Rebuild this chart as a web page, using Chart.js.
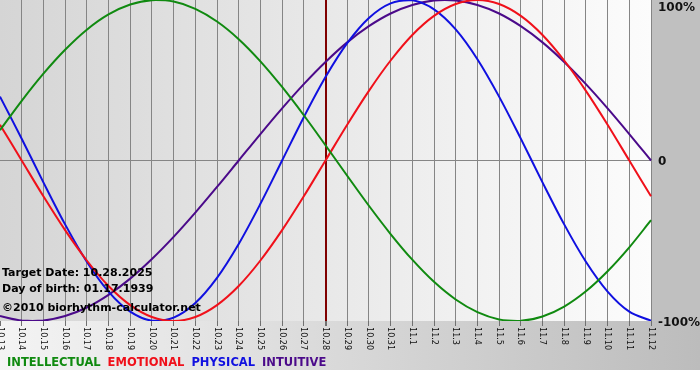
<!DOCTYPE html>
<html>
<head>
<meta charset="utf-8">
<script src="https://cdn.jsdelivr.net/npm/chart.js@4/dist/chart.umd.min.js"></script>
<style>
  html, body { margin: 0; padding: 0; background: #ffffff; }
  canvas { display: block; }
</style>
</head>
<body>
<canvas id="c" width="700" height="380"></canvas>
<script>
// ---- data ----
const categories = ['10.13','10.14','10.15','10.16','10.17','10.18','10.19','10.20','10.21','10.22',
  '10.23','10.24','10.25','10.26','10.27','10.28','10.29','10.30','10.31','11.1','11.2','11.3',
  '11.4','11.5','11.6','11.7','11.8','11.9','11.10','11.11','11.12'];

const intellectual = [0.189,0.372,0.541,0.690,0.815,0.910,0.972,0.999,0.990,0.945,0.866,0.756,0.618,0.458,0.282,0.095,
  -0.095,-0.282,-0.458,-0.618,-0.756,-0.866,-0.945,-0.990,-0.999,-0.972,-0.910,-0.815,-0.690,-0.541,-0.372];

const emotional = [0.223,0.000,-0.223,-0.434,-0.623,-0.782,-0.901,-0.975,-1.000,-0.975,-0.901,-0.782,-0.623,-0.434,-0.223,0.000,
  0.223,0.434,0.623,0.782,0.901,0.975,1.000,0.975,0.901,0.782,0.623,0.434,0.223,0.000,-0.223];

const physical = [0.398,0.136,-0.136,-0.398,-0.631,-0.817,-0.942,-0.998,-0.979,-0.888,-0.731,-0.520,-0.270,0.000,0.270,0.520,
  0.731,0.888,0.979,0.998,0.942,0.817,0.631,0.398,0.136,-0.136,-0.398,-0.631,-0.817,-0.942,-0.998];

const intuitive = [-0.969,-0.997,-0.997,-0.969,-0.916,-0.837,-0.736,-0.614,-0.476,-0.325,-0.165,0.000,0.165,0.325,0.476,0.614,
  0.736,0.837,0.916,0.969,0.997,0.997,0.969,0.916,0.837,0.736,0.614,0.476,0.325,0.165,0.000];

const targetDate = '10.28';
const yTickValues = [1, 0, -1];
const yTickLabels = ['100%', '0', '-100%'];
const infoLines = ['Target Date: 10.28.2025', 'Day of birth: 01.17.1939', '\u00A92010 biorhythm-calculator.net'];
const legendNames = ['INTELLECTUAL', 'EMOTIONAL', 'PHYSICAL', 'INTUITIVE'];
const seriesColors = ['#108a10', '#f0101a', '#1010e0', '#4b0a8a'];

const targetIdx = categories.indexOf(targetDate);

// ---- plugins ----
const backgroundPlugin = {
  id: 'bg',
  beforeDraw(chart) {
    const { ctx, chartArea: a, width, height } = chart;
    ctx.save();
    ctx.fillStyle = '#ffffff';
    ctx.fillRect(0, 0, width, height);
    // bottom band
    let g = ctx.createLinearGradient(0, 0, width, 0);
    g.addColorStop(0, '#f4f4f4');
    g.addColorStop(1, '#bcbcbc');
    ctx.fillStyle = g;
    ctx.fillRect(0, a.bottom, width, 370 - a.bottom);
    // right column
    ctx.fillStyle = '#c0c0c0';
    ctx.fillRect(a.right, 0, width - a.right, a.bottom);
    // plot area
    g = ctx.createLinearGradient(a.left, 0, a.right, 0);
    g.addColorStop(0, '#d5d5d5');
    g.addColorStop(1, '#fcfcfc');
    ctx.fillStyle = g;
    ctx.fillRect(a.left, a.top, a.right - a.left, a.bottom - a.top);
    ctx.restore();
  }
};

const textPlugin = {
  id: 'texts',
  afterDraw(chart) {
    const { ctx, chartArea: a } = chart;
    const xs = chart.scales.x, ys = chart.scales.y;
    ctx.save();
    // x tick labels, rotated clockwise
    ctx.fillStyle = '#111';
    ctx.font = '9px "DejaVu Sans Condensed", "DejaVu Sans", sans-serif';
    ctx.textAlign = 'left';
    ctx.textBaseline = 'middle';
    categories.forEach((lab, i) => {
      const px = xs.getPixelForValue(i);
      ctx.save();
      ctx.translate(px, a.bottom + 6);
      ctx.rotate(Math.PI / 2);
      ctx.fillText(lab, 0, 0);
      ctx.restore();
    });
    // right axis labels
    ctx.font = 'bold 12px "DejaVu Sans", Verdana, sans-serif';
    ctx.fillStyle = '#111';
    ctx.textBaseline = 'middle';
    yTickValues.forEach((v, i) => {
      const py = ys.getPixelForValue(v);
      ctx.fillText(yTickLabels[i], a.right + 7, Math.max(py, 6) + 1.5);
    });
    // info text
    ctx.font = 'bold 11px "DejaVu Sans", Verdana, sans-serif';
    ctx.textBaseline = 'alphabetic';
    ctx.fillStyle = '#000';
    const base = [276, 292, 311];
    infoLines.forEach((t, i) => ctx.fillText(t, 2, base[i]));
    // legend
    ctx.font = 'bold 11.5px "DejaVu Sans", Verdana, sans-serif';
    let lx = 7;
    legendNames.forEach((n, i) => {
      ctx.fillStyle = seriesColors[i];
      ctx.fillText(n, lx, 366);
      lx += ctx.measureText(n).width + 7;
    });
    ctx.restore();
  }
};

// ---- chart ----
const series = [intellectual, emotional, physical, intuitive];
new Chart(document.getElementById('c'), {
  type: 'line',
  data: {
    labels: categories,
    datasets: series.map((d, i) => ({
      label: legendNames[i],
      data: d,
      borderColor: seriesColors[i],
      borderWidth: 2,
      pointRadius: 0,
      tension: 0.33,
      fill: false
    }))
  },
  options: {
    responsive: false,
    animation: false,
    devicePixelRatio: 1,
    layout: { autoPadding: false, padding: { left: 0, top: 0, right: 49, bottom: 54 } },
    plugins: { legend: { display: false }, tooltip: { enabled: false } },
    scales: {
      x: {
        type: 'category',
        offset: false,
        border: { display: false },
        ticks: { display: false },
        grid: {
          drawTicks: true,
          tickLength: 5,
          tickColor: '#707070',
          color: (c) => c.index === targetIdx ? '#800000' : (c.index === 0 ? 'rgba(0,0,0,0)' : '#858585'),
          lineWidth: (c) => c.index === targetIdx ? 2 : 1
        }
      },
      y: {
        position: 'right',
        min: -1,
        max: 1,
        border: { display: false },
        ticks: { display: false, stepSize: 1 },
        grid: {
          drawTicks: false,
          color: (c) => c.tick && c.tick.value === 0 ? '#858585' : 'rgba(0,0,0,0)'
        }
      }
    }
  },
  plugins: [backgroundPlugin, textPlugin]
});
</script>
</body>
</html>
